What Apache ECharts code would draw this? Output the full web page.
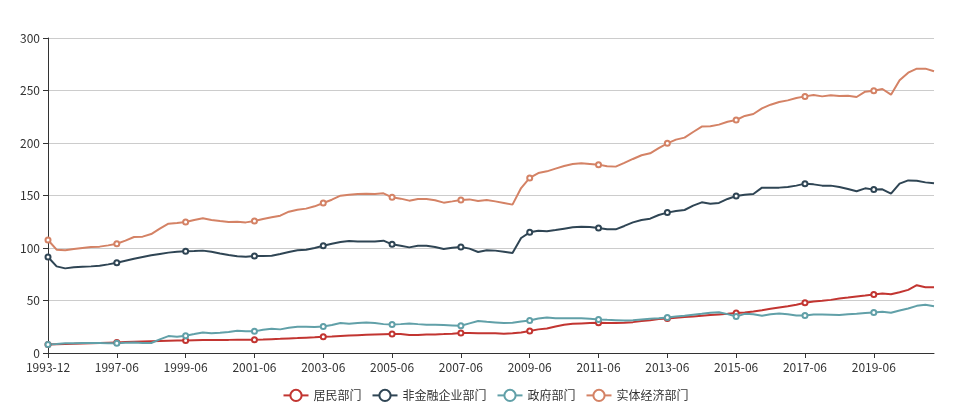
<!DOCTYPE html>
<html>
<head>
<meta charset="utf-8">
<script src="https://cdn.jsdelivr.net/npm/echarts@6/dist/echarts.min.js"></script>
<style>html,body{margin:0;padding:0;background:#fff;}#main{width:971px;height:411px;}</style>
</head>
<body>
<div id="main"></div>
<script>
const categories = [
'1993-12','1994-12','1995-12','1996-03','1996-06','1996-09','1996-12','1997-03','1997-06','1997-09','1997-12',
'1998-03','1998-06','1998-09','1998-12','1999-03','1999-06','1999-09','1999-12',
'2000-03','2000-06','2000-09','2000-12','2001-03','2001-06','2001-09','2001-12',
'2002-03','2002-06','2002-09','2002-12','2003-03','2003-06','2003-09','2003-12',
'2004-03','2004-06','2004-09','2004-12','2005-03','2005-06','2005-09','2005-12',
'2006-03','2006-06','2006-09','2006-12','2007-03','2007-06','2007-09','2007-12',
'2008-03','2008-06','2008-09','2008-12','2009-03','2009-06','2009-09','2009-12',
'2010-03','2010-06','2010-09','2010-12','2011-03','2011-06','2011-09','2011-12',
'2012-03','2012-06','2012-09','2012-12','2013-03','2013-06','2013-09','2013-12',
'2014-03','2014-06','2014-09','2014-12','2015-03','2015-06','2015-09','2015-12',
'2016-03','2016-06','2016-09','2016-12','2017-03','2017-06','2017-09','2017-12',
'2018-03','2018-06','2018-09','2018-12','2019-03','2019-06','2019-09','2019-12',
'2020-03','2020-06','2020-09','2020-12','2021-03'
];
const seriesNames = ['居民部门','非金融企业部门','政府部门','实体经济部门'];
const household = [8.2,8.4,8.6,8.8,9.1,9.3,9.5,9.8,10.1,10.4,10.7,11.0,11.3,11.5,11.7,11.9,12.0,12.2,12.3,12.4,12.5,12.5,12.6,12.6,12.7,12.9,13.2,13.5,13.9,14.2,14.6,15.0,15.5,15.8,16.2,16.6,17.0,17.3,17.6,17.8,18.0,18.0,17.1,17.1,17.7,17.7,18.0,18.4,19.0,19.0,18.7,18.7,18.7,18.4,18.7,19.6,20.9,22.5,23.4,25.3,26.9,27.8,28.2,28.5,28.8,28.5,28.5,28.8,29.4,30.4,31.3,32.3,32.9,33.5,34.2,34.8,35.4,36.1,36.7,37.3,38.0,38.6,39.6,40.8,42.1,43.4,44.6,45.9,47.8,49.1,49.7,50.6,51.9,52.8,53.8,54.7,55.7,56.6,56.0,57.9,60.1,64.6,62.7,62.7];
const corporate = [91.4,82.5,80.6,81.6,82.2,82.5,83.2,84.4,86.0,87.9,89.8,91.4,93.0,94.3,95.6,96.5,96.8,97.1,97.5,96.5,94.8,93.3,92.1,91.7,92.4,92.4,92.7,94.3,96.2,97.8,98.4,100.0,102.2,104.1,105.7,106.7,106.3,106.3,106.3,107.0,103.5,102.2,100.6,102.2,102.2,101.0,99.0,100.3,101.0,99.4,96.2,97.8,97.5,96.5,95.2,109.5,114.9,116.5,115.9,117.1,118.4,119.7,120.3,120.0,119.0,117.8,117.8,121.0,124.4,126.7,127.9,131.4,133.7,135.2,136.2,140.3,143.5,142.2,142.9,146.7,149.5,150.8,151.4,157.5,157.5,157.5,158.1,159.4,161.3,160.6,159.4,159.4,158.1,156.2,154.0,156.8,155.6,155.9,151.7,161.3,164.4,164.1,162.5,161.6];
const government = [8.2,8.6,9.2,9.3,9.5,9.5,9.5,9.4,9.2,9.8,10.1,9.5,9.5,13.0,16.1,15.5,16.5,18.0,19.6,18.7,19.2,19.9,21.2,20.6,20.6,22.2,23.1,22.5,24.1,25.0,25.0,24.7,25.3,26.6,28.5,27.8,28.5,29.1,28.5,27.5,27.2,27.5,28.2,27.5,26.9,26.9,26.6,26.3,25.9,28.2,30.4,29.7,29.1,28.5,28.8,30.1,31.0,32.9,33.9,33.2,33.2,33.2,33.2,32.6,32.0,31.6,31.3,31.0,31.3,32.0,32.6,33.2,33.9,34.8,35.4,36.4,37.3,38.3,38.9,37.0,34.8,37.3,37.0,35.4,37.0,37.7,37.0,35.8,35.8,36.7,36.7,36.4,36.1,37.0,37.3,38.0,38.6,39.2,38.3,40.5,42.4,44.9,45.9,44.6];
const realEconomy = [107.6,98.4,97.8,99.0,100.0,101.0,101.3,102.5,104.1,107.0,110.5,110.8,113.3,118.4,123.2,123.8,124.8,126.7,128.3,126.7,125.7,124.8,125.1,124.4,125.7,127.6,129.2,130.8,134.6,136.5,137.5,139.7,142.9,146.0,149.8,150.8,151.4,151.7,151.4,152.1,148.3,147.0,145.1,146.7,146.7,145.4,143.2,144.4,145.7,146.3,144.8,145.7,144.4,142.9,141.3,157.1,166.7,171.4,173.0,175.6,178.1,180.0,180.6,180.0,179.4,177.8,177.5,181.0,184.8,188.3,190.2,195.2,199.7,203.2,205.1,210.5,215.6,215.9,217.5,220.3,221.9,225.8,227.6,233.0,236.5,239.0,240.6,242.9,244.4,245.7,244.4,245.4,244.8,245.1,243.8,248.9,249.8,251.4,246.0,259.7,267.0,270.8,270.8,268.3];
const yMin = 0, yMax = 300, yInterval = 50;

const colors = ['#c23531','#2f4554','#61a0a8','#d48265'];
const values = [household, corporate, government, realEconomy];
const font = '"Noto Sans CJK SC", "Microsoft YaHei", sans-serif';

const chart = echarts.init(document.getElementById('main'), null, {renderer: 'canvas'});
chart.setOption({
  animation: false,
  color: colors,
  textStyle: {fontFamily: font},
  grid: {left: 48, right: 37, top: 38, bottom: 58},
  legend: {
    bottom: 4,
    data: seriesNames,
    itemGap: 10,
    itemWidth: 25,
    itemHeight: 14,
    textStyle: {color: '#333', fontSize: 12, fontFamily: font}
  },
  xAxis: {
    type: 'category',
    boundaryGap: false,
    data: categories,
    axisLine: {show: true, lineStyle: {color: '#333', width: 1}},
    axisTick: {show: true, interval: 7, lineStyle: {color: '#333'}},
    axisLabel: {interval: 7, color: '#333', fontSize: 12, fontFamily: font, margin: 8}
  },
  yAxis: {
    type: 'value',
    min: yMin, max: yMax, interval: yInterval,
    axisLine: {show: true, lineStyle: {color: '#333', width: 1}},
    axisTick: {show: true, lineStyle: {color: '#333'}},
    axisLabel: {color: '#333', fontSize: 12, fontFamily: font, margin: 8},
    splitLine: {show: true, lineStyle: {color: '#ccc', width: 1}}
  },
  series: seriesNames.map((name, k) => ({
    name: name,
    type: 'line',
    data: values[k],
    symbol: 'emptyCircle',
    symbolSize: 5,
    showAllSymbol: false,
    smooth: false,
    lineStyle: {width: 2, color: colors[k]},
    itemStyle: {color: colors[k], borderWidth: 1}
  }))
});
</script>
</body>
</html>
